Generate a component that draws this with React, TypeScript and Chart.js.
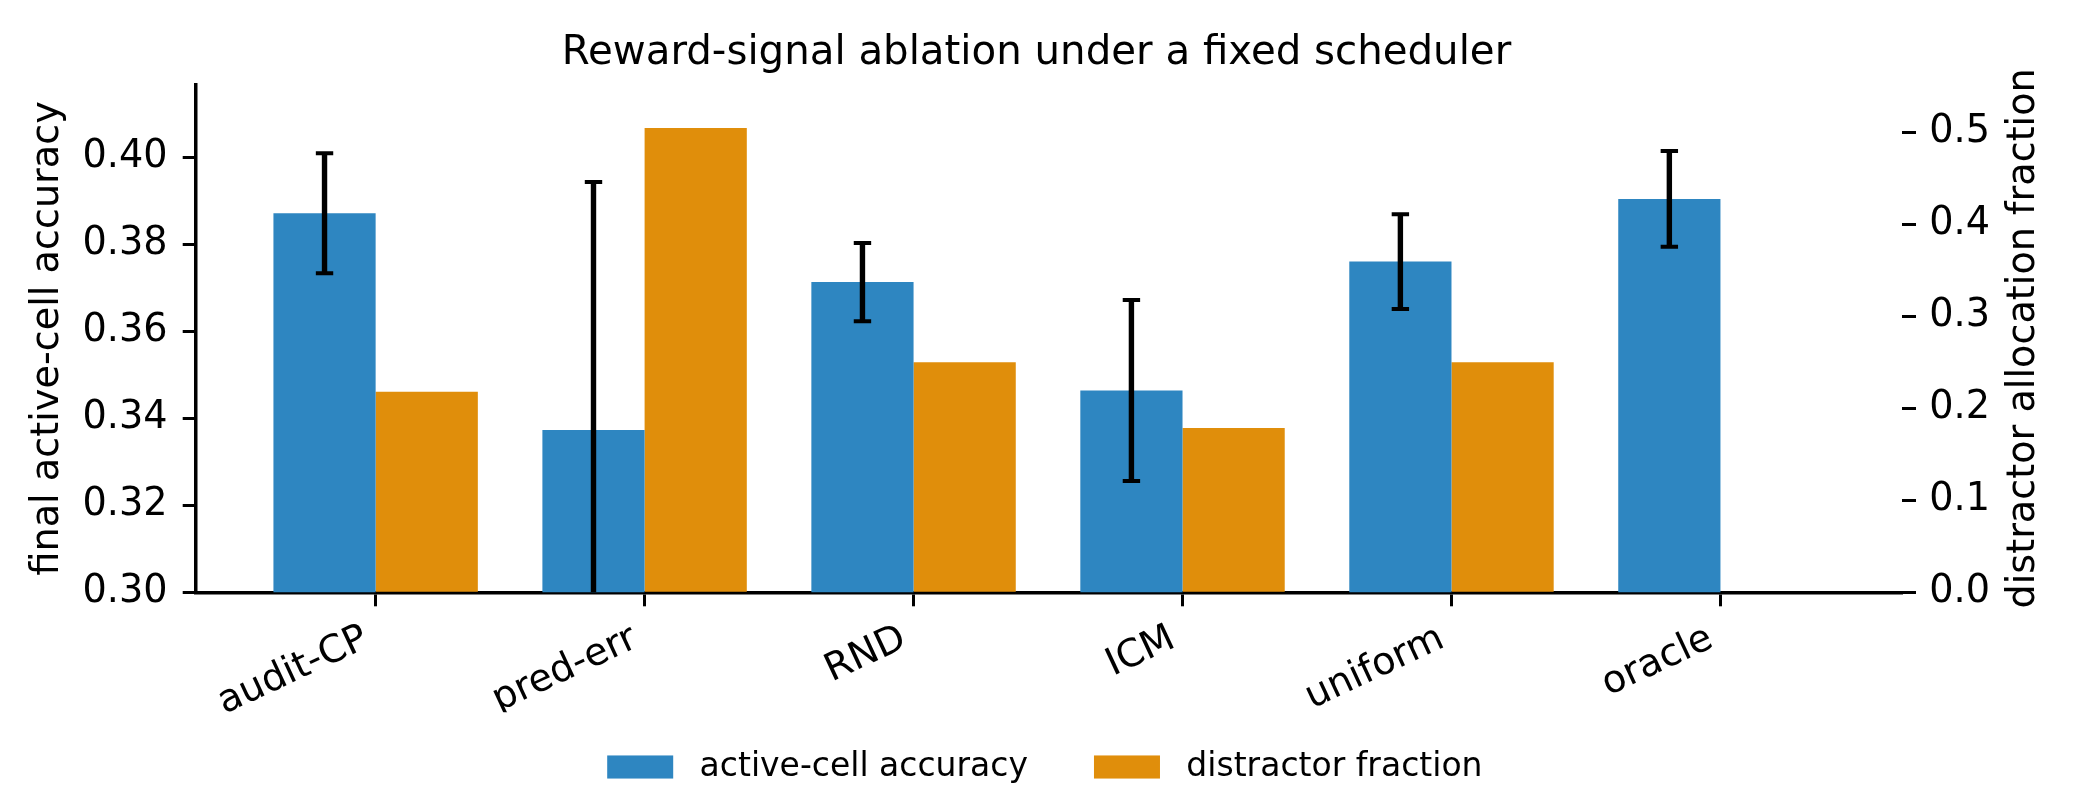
import React, { useEffect, useRef } from 'react';
import { Chart, registerables } from 'chart.js';

Chart.register(...registerables);

// ---------------- data ----------------
const categories = ['audit-CP', 'pred-err', 'RND', 'ICM', 'uniform', 'oracle'];
const accuracyMean = [0.3871, 0.3373, 0.3713, 0.3464, 0.376, 0.3904];
const accuracyErr = [0.0138, 0.057, 0.009, 0.0208, 0.0109, 0.011];
const distractorFraction: (number | null)[] = [0.218, 0.5047, 0.25, 0.1786, 0.25, null];
const leftTicks = [0.3, 0.32, 0.34, 0.36, 0.38, 0.4];
const rightTicks = [0.0, 0.1, 0.2, 0.3, 0.4, 0.5];
const seriesLabels = ['active-cell accuracy', 'distractor fraction'];
const titleText = 'Reward-signal ablation under a fixed scheduler';
const leftAxisTitle = 'final active-cell accuracy';
const rightAxisTitle = 'distractor allocation fraction';

// ---------------- style ----------------
const W = 2073;
const H = 788;
const FONT = "'DejaVu Sans', 'Liberation Sans', sans-serif";
const BLUE = '#2E86C1';
const ORANGE = '#E08E0B';
const AREA = { left: 195.7, right: 1902, top: 84.5, bottom: 592.3 };
const X_AXIS_H = 120;
const TICK_FONT = 38.2;
const LABEL_FONT = 38.2;
const TITLE_FONT = 40.3;
const LEGEND_FONT = 33;

const errorBarPlugin = {
  id: 'errorBars',
  afterDatasetsDraw(chart: any) {
    const meta = chart.getDatasetMeta(0);
    const yScale = chart.scales.y;
    const { ctx, chartArea } = chart;
    ctx.save();
    ctx.beginPath();
    ctx.rect(chartArea.left, chartArea.top, chartArea.right - chartArea.left, chartArea.bottom - chartArea.top);
    ctx.clip();
    ctx.strokeStyle = '#000';
    meta.data.forEach((bar: any, i: number) => {
      const m = accuracyMean[i];
      const e = accuracyErr[i];
      const x = bar.x;
      const yTop = yScale.getPixelForValue(m + e);
      const yBot = yScale.getPixelForValue(m - e);
      ctx.lineWidth = 5.4;
      ctx.beginPath();
      ctx.moveTo(x, yTop);
      ctx.lineTo(x, yBot);
      ctx.stroke();
      ctx.lineWidth = 4;
      const half = 8.7;
      ctx.beginPath();
      ctx.moveTo(x - half, yTop);
      ctx.lineTo(x + half, yTop);
      ctx.moveTo(x - half, yBot);
      ctx.lineTo(x + half, yBot);
      ctx.stroke();
    });
    ctx.restore();
  },
};

const extrasPlugin = {
  id: 'extras',
  afterDraw(chart: any) {
    const { ctx, chartArea } = chart;
    ctx.save();
    // right axis title (reads bottom-to-top)
    ctx.fillStyle = '#000';
    ctx.font = `${LABEL_FONT}px ${FONT}`;
    ctx.translate(2023.7, (chartArea.top + chartArea.bottom) / 2);
    ctx.rotate(-Math.PI / 2);
    ctx.textAlign = 'center';
    ctx.textBaseline = 'middle';
    ctx.fillText(rightAxisTitle, 0, 0);
    ctx.restore();

    // legend
    ctx.save();
    ctx.font = `${LEGEND_FONT}px ${FONT}`;
    const handleW = 2 * LEGEND_FONT;
    const handleH = 0.7 * LEGEND_FONT;
    const textPad = 0.8 * LEGEND_FONT;
    const colGap = 2 * LEGEND_FONT;
    const colors = [BLUE, ORANGE];
    const widths = seriesLabels.map((t) => ctx.measureText(t).width);
    const total = widths.reduce((a, w) => a + handleW + textPad + w, 0) + colGap * (seriesLabels.length - 1);
    const center = (chartArea.left + chartArea.right) / 2 - 4;
    let x = center - total / 2;
    const cy = 767;
    ctx.textAlign = 'left';
    ctx.textBaseline = 'middle';
    seriesLabels.forEach((t, i) => {
      ctx.fillStyle = colors[i];
      ctx.fillRect(x, cy - handleH / 2, handleW, handleH);
      ctx.fillStyle = '#000';
      ctx.fillText(t, x + handleW + textPad, cy);
      x += handleW + textPad + widths[i] + colGap;
    });
    ctx.restore();
  },
};

export default function App() {
  const ref = useRef<HTMLCanvasElement>(null);

  useEffect(() => {
    document.body.style.margin = '0';
    const canvas = ref.current;
    if (!canvas) return;
    Chart.defaults.font.family = FONT;
    Chart.defaults.color = '#000';

    const chart = new Chart(canvas, {
      type: 'bar',
      data: {
        datasets: [
          {
            label: seriesLabels[0],
            data: accuracyMean.map((y, i) => ({ x: i, y })),
            backgroundColor: BLUE,
            borderWidth: 0,
            yAxisID: 'y',
            categoryPercentage: 0.76,
            barPercentage: 1.0,
          },
          {
            label: seriesLabels[1],
            data: distractorFraction.map((y, i) => ({ x: i, y })),
            backgroundColor: ORANGE,
            borderWidth: 0,
            yAxisID: 'y1',
            categoryPercentage: 0.76,
            barPercentage: 1.0,
          },
        ],
      },
      options: {
        animation: false,
        responsive: false,
        devicePixelRatio: 1,
        events: [],
        layout: { padding: { top: 0, left: 0, right: 0, bottom: H - AREA.bottom - X_AXIS_H } },
        plugins: {
          legend: { display: false },
          tooltip: { enabled: false },
          title: {
            display: true,
            fullSize: true,
            text: titleText,
            color: '#000',
            font: { family: FONT, size: TITLE_FONT, weight: 'normal', lineHeight: 1.2 },
            padding: { top: 29.8, bottom: AREA.top - 29.8 - TITLE_FONT * 1.2 },
          },
        },
        scales: {
          x: {
            type: 'linear',
            position: 'bottom',
            offset: false,
            min: -0.669,
            max: 5.675,
            afterBuildTicks: (s: any) => {
              s.ticks = categories.map((_, i) => ({ value: i }));
            },
            afterFit: (s: any) => {
              s.height = X_AXIS_H;
            },
            ticks: {
              autoSkip: false,
              minRotation: 25,
              maxRotation: 25,
              padding: 10,
              labelOffset: -9.5,
              color: '#000',
              font: { family: FONT, size: TICK_FONT },
              callback: (v: any) => categories[v as number] ?? '',
            },
            grid: { display: true, offset: false, drawOnChartArea: false, drawTicks: true, tickLength: 14, tickWidth: 3, tickColor: '#000' },
            border: { display: true, color: '#000', width: 3.5 },
          },
          y: {
            type: 'linear',
            position: 'left',
            min: 0.3,
            max: 0.4167,
            afterBuildTicks: (s: any) => {
              s.ticks = leftTicks.map((v) => ({ value: v }));
            },
            afterFit: (s: any) => {
              s.width = AREA.left;
            },
            ticks: {
              padding: 15.2,
              color: '#000',
              font: { family: FONT, size: TICK_FONT },
              callback: (v: any) => Number(v).toFixed(2),
            },
            grid: { display: true, drawOnChartArea: false, drawTicks: true, tickLength: 13, tickWidth: 3, tickColor: '#000' },
            border: { display: true, color: '#000', width: 3.5 },
            title: {
              display: true,
              text: leftAxisTitle,
              color: '#000',
              font: { family: FONT, size: LABEL_FONT, lineHeight: 1.2 },
              padding: { top: 25.1, bottom: 0 },
            },
          },
          y1: {
            type: 'linear',
            position: 'right',
            min: 0,
            max: 0.552,
            afterBuildTicks: (s: any) => {
              s.ticks = rightTicks.map((v) => ({ value: v }));
            },
            afterFit: (s: any) => {
              s.width = W - AREA.right;
            },
            ticks: {
              padding: 13.2,
              color: '#000',
              font: { family: FONT, size: TICK_FONT },
              callback: (v: any) => Number(v).toFixed(1),
            },
            grid: { display: true, drawOnChartArea: false, drawTicks: true, tickLength: 14, tickWidth: 3, tickColor: '#000' },
            border: { display: false },
          },
        },
      } as any,
      plugins: [errorBarPlugin, extrasPlugin],
    });

    return () => chart.destroy();
  }, []);

  return <canvas ref={ref} width={W} height={H} style={{ display: 'block', width: W, height: H }} />;
}
